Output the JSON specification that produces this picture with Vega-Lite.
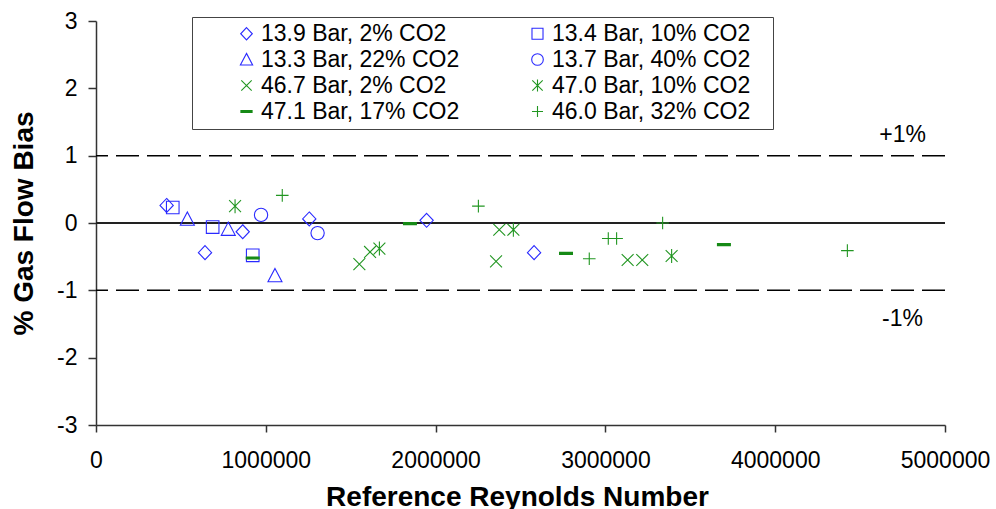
{
  "$schema": "https://vega.github.io/schema/vega-lite/v6.json",
  "width": 849,
  "height": 404,
  "autosize": "none",
  "padding": {"left": 96, "top": 21, "right": 51, "bottom": 84},
  "config": {
    "view": {"stroke": null},
    "font": "Liberation Sans",
    "legend": {
      "orient": "none",
      "legendX": 96,
      "legendY": -4,
      "columns": 2,
      "padding": 5,
      "strokeColor": "#444444",
      "labelFont": "Liberation Sans",
      "labelFontSize": 23,
      "labelColor": "black",
      "labelLimit": 400,
      "symbolSize": 150,
      "symbolStrokeWidth": 1.1,
      "symbolOffset": 38,
      "labelOffset": 3,
      "columnPadding": 28,
      "rowPadding": 2
    }
  },
  "layer": [
    {
      "data": {"values": [{"bias": 1}, {"bias": -1}]},
      "mark": {"type": "rule", "color": "black", "strokeWidth": 1.5, "strokeDash": [23, 8]},
      "encoding": {"y": {"field": "bias", "type": "quantitative"}}
    },
    {
      "data": {"values": [{"bias": 0}]},
      "mark": {"type": "rule", "color": "#222222", "strokeWidth": 2},
      "encoding": {"y": {"field": "bias", "type": "quantitative"}}
    },
    {
      "data": {"values": [
        {"re": 4750000, "bias": 1.31, "label": "+1%"},
        {"re": 4750000, "bias": -1.43, "label": "-1%"}
      ]},
      "mark": {"type": "text", "fontSize": 23, "color": "black", "font": "Liberation Sans"},
      "encoding": {
        "x": {"field": "re", "type": "quantitative"},
        "y": {"field": "bias", "type": "quantitative"},
        "text": {"field": "label"}
      }
    },
    {
      "data": {"values": [
        {"series": "13.9 Bar, 2% CO2", "re": 416000, "bias": 0.26},
        {"series": "13.9 Bar, 2% CO2", "re": 864000, "bias": -0.13},
        {"series": "13.9 Bar, 2% CO2", "re": 642000, "bias": -0.44},
        {"series": "13.9 Bar, 2% CO2", "re": 1256000, "bias": 0.06},
        {"series": "13.9 Bar, 2% CO2", "re": 1947000, "bias": 0.04},
        {"series": "13.9 Bar, 2% CO2", "re": 2580000, "bias": -0.44},
        {"series": "13.4 Bar, 10% CO2", "re": 452000, "bias": 0.23},
        {"series": "13.4 Bar, 10% CO2", "re": 687000, "bias": -0.06},
        {"series": "13.4 Bar, 10% CO2", "re": 923000, "bias": -0.48},
        {"series": "13.3 Bar, 22% CO2", "re": 538000, "bias": 0.06},
        {"series": "13.3 Bar, 22% CO2", "re": 779000, "bias": -0.09},
        {"series": "13.3 Bar, 22% CO2", "re": 1054000, "bias": -0.78},
        {"series": "13.7 Bar, 40% CO2", "re": 972000, "bias": 0.12},
        {"series": "13.7 Bar, 40% CO2", "re": 1305000, "bias": -0.15},
        {"series": "46.7 Bar, 2% CO2", "re": 1551000, "bias": -0.61},
        {"series": "46.7 Bar, 2% CO2", "re": 1614000, "bias": -0.43},
        {"series": "46.7 Bar, 2% CO2", "re": 2356000, "bias": -0.57},
        {"series": "46.7 Bar, 2% CO2", "re": 2375000, "bias": -0.10},
        {"series": "46.7 Bar, 2% CO2", "re": 3131000, "bias": -0.55},
        {"series": "46.7 Bar, 2% CO2", "re": 3217000, "bias": -0.55},
        {"series": "47.0 Bar, 10% CO2", "re": 819000, "bias": 0.25},
        {"series": "47.0 Bar, 10% CO2", "re": 1669000, "bias": -0.38},
        {"series": "47.0 Bar, 10% CO2", "re": 2458000, "bias": -0.10},
        {"series": "47.0 Bar, 10% CO2", "re": 3390000, "bias": -0.49},
        {"series": "47.1 Bar, 17% CO2", "re": 923000, "bias": -0.52},
        {"series": "47.1 Bar, 17% CO2", "re": 1849000, "bias": -0.01},
        {"series": "47.1 Bar, 17% CO2", "re": 2768000, "bias": -0.45},
        {"series": "47.1 Bar, 17% CO2", "re": 3698000, "bias": -0.32},
        {"series": "46.0 Bar, 32% CO2", "re": 1097000, "bias": 0.41},
        {"series": "46.0 Bar, 32% CO2", "re": 2252000, "bias": 0.25},
        {"series": "46.0 Bar, 32% CO2", "re": 2905000, "bias": -0.53},
        {"series": "46.0 Bar, 32% CO2", "re": 3017000, "bias": -0.23},
        {"series": "46.0 Bar, 32% CO2", "re": 3066000, "bias": -0.23},
        {"series": "46.0 Bar, 32% CO2", "re": 3337000, "bias": 0.0},
        {"series": "46.0 Bar, 32% CO2", "re": 4425000, "bias": -0.41}
      ]},
      "mark": {"type": "point", "filled": false, "opacity": 1, "size": 196, "strokeWidth": 1.1},
      "encoding": {
        "x": {
          "field": "re", "type": "quantitative",
          "scale": {"domain": [0, 5000000], "nice": false, "zero": false},
          "axis": {
            "title": "Reference Reynolds Number",
            "values": [0, 1000000, 2000000, 3000000, 4000000, 5000000],
            "format": "d",
            "grid": false,
            "tickSize": 7,
            "tickColor": "#333333",
            "tickWidth": 1.5,
            "domainColor": "#333333",
            "domainWidth": 1.5,
            "labelFontSize": 23,
            "labelColor": "black",
            "labelPadding": 17,
            "labelFlush": false,
            "labelOverlap": false,
            "titleFontSize": 28,
            "titleFontWeight": "bold",
            "titleColor": "black",
            "titleX": 421,
            "titleY": 80,
            "titleBaseline": "alphabetic",
            "titleAlign": "center"
          }
        },
        "y": {
          "field": "bias", "type": "quantitative",
          "scale": {"domain": [-3, 3], "nice": false, "zero": false},
          "axis": {
            "title": "% Gas Flow Bias",
            "values": [-3, -2, -1, 0, 1, 2, 3],
            "labelExpr": "datum.value < 0 ? '-' + abs(datum.value) : '' + datum.value",
            "grid": false,
            "tickSize": 8,
            "tickColor": "#333333",
            "tickWidth": 1.5,
            "domainColor": "#333333",
            "domainWidth": 1.5,
            "labelFontSize": 23,
            "labelColor": "black",
            "labelPadding": 11,
            "labelFlush": false,
            "labelOverlap": false,
            "titleFontSize": 28,
            "titleFontWeight": "bold",
            "titleColor": "black",
            "titleAngle": 270,
            "titleX": -64,
            "titleY": 202,
            "titleBaseline": "alphabetic",
            "titleAlign": "center"
          }
        },
        "color": {
          "field": "series", "type": "nominal",
          "scale": {
            "domain": ["13.9 Bar, 2% CO2", "13.3 Bar, 22% CO2", "46.7 Bar, 2% CO2", "47.1 Bar, 17% CO2", "13.4 Bar, 10% CO2", "13.7 Bar, 40% CO2", "47.0 Bar, 10% CO2", "46.0 Bar, 32% CO2"],
            "range": ["#2a2aff", "#2a2aff", "#229622", "#168a16", "#2a2aff", "#2a2aff", "#229622", "#229622"]
          },
          "legend": {"title": " ", "titleOrient": "right", "titlePadding": 18, "titleFontSize": 2}
        },
        "shape": {
          "field": "series", "type": "nominal",
          "scale": {
            "domain": ["13.9 Bar, 2% CO2", "13.3 Bar, 22% CO2", "46.7 Bar, 2% CO2", "47.1 Bar, 17% CO2", "13.4 Bar, 10% CO2", "13.7 Bar, 40% CO2", "47.0 Bar, 10% CO2", "46.0 Bar, 32% CO2"],
            "range": [
              "M0,-1L0.95,0L0,1L-0.95,0Z",
              "M0,-1L1,0.9L-1,0.9Z",
              "M-0.85,-0.85L0.85,0.85M-0.85,0.85L0.85,-0.85",
              "M-1,-0.15H1M-1,0H1M-1,0.15H1",
              "M-0.9,-0.9H0.9V0.9H-0.9Z",
              "M0.95,0A0.95,0.95 0 1,1 -0.95,0A0.95,0.95 0 1,1 0.95,0Z",
              "M-0.85,-0.85L0.85,0.85M-0.85,0.85L0.85,-0.85M0,-1V1",
              "M-0.9,0H0.9M0,-0.9V0.9"
            ]
          },
          "legend": {"title": " ", "titleOrient": "right", "titlePadding": 18, "titleFontSize": 2}
        }
      }
    }
  ]
}
